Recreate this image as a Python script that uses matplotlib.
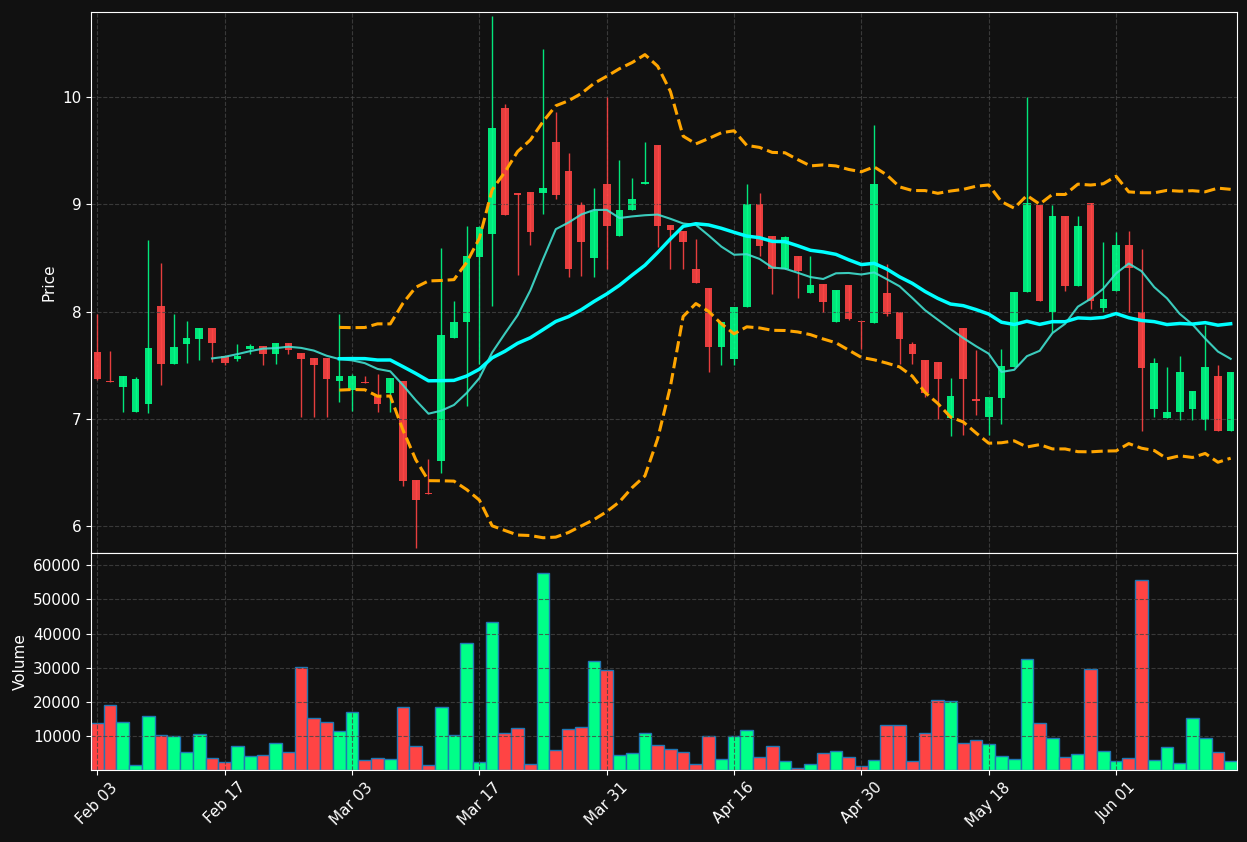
"""
plot.py - candlestick chart with MA10 / MA20, Bollinger bands and volume
"""
import numpy as np
import pandas as pd
import matplotlib
matplotlib.use("Agg")
import matplotlib.pyplot as plt

# tick labels, one every 10 trading days
tick_labels = ["Feb 03", "Feb 17", "Mar 03", "Mar 17", "Mar 31",
               "Apr 16", "Apr 30", "May 18", "Jun 01"]

opens = [7.62, 7.35, 7.30, 7.06, 7.14, 8.05, 7.51, 7.70, 7.74, 7.85,
         7.59, 7.56, 7.65, 7.68, 7.60, 7.71, 7.61, 7.57, 7.57, 7.35,
         7.27, 7.34, 7.21, 7.24, 7.35, 6.43, 6.31, 6.61, 7.75, 7.90,
         8.51, 8.72, 9.90, 9.10, 9.11, 9.10, 9.58, 9.31, 8.99, 8.50,
         9.19, 8.70, 8.95, 9.19, 9.55, 8.81, 8.75, 8.40, 8.22, 7.67,
         7.56, 8.04, 9.00, 8.70, 8.40, 8.52, 8.17, 8.26, 7.90, 8.25,
         7.91, 7.89, 8.17, 8.00, 7.70, 7.55, 7.53, 7.01, 7.85, 7.18,
         7.02, 7.19, 7.48, 8.18, 8.99, 8.00, 8.89, 8.24, 9.01, 8.03,
         8.19, 8.62, 8.00, 7.09, 7.01, 7.06, 7.09, 6.99, 7.40, 6.89]
highs = [7.98, 7.63, 7.40, 7.39, 8.67, 8.45, 7.98, 7.91, 7.85, 7.85,
         7.59, 7.70, 7.70, 7.68, 7.71, 7.71, 7.61, 7.57, 7.57, 7.98,
         7.42, 7.40, 7.42, 7.38, 7.35, 6.43, 6.63, 8.59, 8.10, 8.80,
         8.80, 10.75, 9.93, 9.10, 9.11, 10.45, 9.86, 9.48, 9.02, 9.15,
         10.00, 9.41, 9.24, 9.58, 9.55, 8.81, 8.75, 8.68, 8.22, 7.90,
         8.04, 9.19, 9.10, 8.70, 8.70, 8.52, 8.52, 8.26, 8.20, 8.25,
         7.91, 9.74, 8.44, 8.00, 7.72, 7.55, 7.53, 7.38, 7.85, 7.64,
         7.20, 7.65, 8.18, 10.00, 8.99, 8.99, 8.89, 8.89, 9.01, 8.65,
         8.74, 8.75, 8.58, 7.57, 7.48, 7.59, 7.26, 7.87, 7.50, 7.44]
lows = [7.36, 7.34, 7.06, 7.06, 7.05, 7.32, 7.51, 7.52, 7.55, 7.53,
        7.50, 7.54, 7.60, 7.50, 7.51, 7.60, 7.02, 7.02, 7.02, 7.16,
        7.07, 7.33, 7.06, 7.06, 6.37, 5.80, 6.30, 6.50, 7.75, 7.12,
        7.51, 8.05, 8.90, 8.34, 8.62, 8.91, 9.05, 8.32, 8.33, 8.32,
        8.40, 8.70, 8.95, 9.19, 8.60, 8.40, 8.40, 8.27, 7.44, 7.50,
        7.50, 8.04, 8.52, 8.16, 8.40, 8.13, 8.17, 8.00, 7.90, 7.92,
        7.65, 7.89, 7.96, 7.51, 7.51, 7.20, 7.00, 6.84, 6.85, 7.04,
        6.85, 6.95, 7.48, 8.18, 8.10, 7.81, 8.19, 8.24, 8.02, 8.00,
        8.19, 8.00, 6.89, 7.02, 7.01, 6.99, 6.99, 6.90, 6.89, 6.89]
closes = [7.37, 7.34, 7.40, 7.37, 7.66, 7.51, 7.67, 7.75, 7.85, 7.71,
          7.52, 7.59, 7.68, 7.60, 7.71, 7.64, 7.56, 7.50, 7.37, 7.40,
          7.40, 7.33, 7.14, 7.38, 6.42, 6.24, 6.30, 7.78, 7.90, 8.52,
          8.79, 9.71, 8.90, 9.09, 8.74, 9.15, 9.09, 8.40, 8.65, 8.94,
          8.80, 8.95, 9.05, 9.20, 8.80, 8.76, 8.65, 8.27, 7.67, 7.90,
          8.04, 9.00, 8.61, 8.40, 8.69, 8.38, 8.25, 8.09, 8.20, 7.93,
          7.90, 9.19, 7.98, 7.74, 7.60, 7.24, 7.37, 7.21, 7.37, 7.17,
          7.20, 7.49, 8.18, 9.01, 8.10, 8.89, 8.24, 8.80, 8.10, 8.12,
          8.62, 8.41, 7.47, 7.52, 7.06, 7.44, 7.26, 7.48, 6.89, 7.44]
volumes = [13730, 18990, 14020, 1360, 15770, 10220, 9930, 5260, 10520, 3500,
           2340, 7010, 4090, 4380, 7890, 5260, 30090, 15190, 14020, 11390,
           16940, 2920, 3500, 3210, 18400, 7010, 1360, 18400, 10220, 37100,
           2340, 43530, 10810, 12270, 1750, 57840, 5840, 11980, 12560, 31840,
           29210, 4380, 4970, 10810, 7300, 6130, 5260, 1750, 9930, 3210,
           9930, 11680, 3800, 7010, 2630, 580, 1750, 4970, 5550, 3800,
           1170, 2920, 13150, 13150, 2630, 10810, 20450, 20160, 7890, 8760,
           7600, 4090, 3210, 32420, 13730, 9350, 3800, 4670, 29500, 5550,
           2630, 3500, 55790, 2920, 6720, 2040, 15190, 9350, 5260, 2630]

BG = "#111111"
UP = "#00ff88"
DOWN = "#ff4444"

df = pd.DataFrame({"open": opens, "high": highs, "low": lows,
                   "close": closes, "volume": volumes})
x = np.arange(len(df))
up = df["close"] >= df["open"]
colors = np.where(up, UP, DOWN)

# indicators
ma10 = df["close"].rolling(10).mean()
ma20 = df["close"].rolling(20).mean()
std20 = df["close"].rolling(20).std(ddof=0)
upper = ma20 + 2 * std20
lower = ma20 - 2 * std20

fig = plt.figure(figsize=(12.47, 8.42), dpi=100, facecolor=BG)
ax = fig.add_axes([0.073, 0.3432, 0.919, 0.6425], facecolor=BG)
axv = fig.add_axes([0.073, 0.0855, 0.919, 0.2577], facecolor=BG, sharex=ax)

# candles: wicks then bodies
ax.vlines(x, df["low"], df["high"], colors=colors, linewidth=1, alpha=0.9)
body_low = np.minimum(df["open"], df["close"])
body_h = np.maximum((df["close"] - df["open"]).abs(), 0.012)
ax.bar(x, body_h, bottom=body_low, width=0.6, color=colors, alpha=0.9)

ax.plot(x, ma10, color="#40e0d0", linewidth=1.5, alpha=0.9)
ax.plot(x, ma20, color="#00ffff", linewidth=2.5)
ax.plot(x, upper, color="orange", linestyle="--", linewidth=2.2)
ax.plot(x, lower, color="orange", linestyle="--", linewidth=2.2)

# volume
axv.bar(x, df["volume"], width=1.0, color=colors, edgecolor="#1f77b4", linewidth=1)

for a in (ax, axv):
    a.grid(True, linestyle="--", color="#444444", linewidth=0.8, alpha=0.8)
    a.tick_params(colors="white", labelsize=11)
    for s in a.spines.values():
        s.set_color("white")

ax.set_xlim(-0.5, len(df) - 0.5)
ax.set_ylim(5.75, 10.79)
ax.set_yticks([6, 7, 8, 9, 10])
ax.set_ylabel("Price", color="white", fontsize=11)
ax.tick_params(axis="x", labelbottom=False, length=0)

axv.set_ylim(0, max(volumes) * 1.1)
axv.set_yticks([10000, 20000, 30000, 40000, 50000, 60000])
axv.set_ylabel("Volume", color="white", fontsize=11)
axv.set_xticks(x[::10][:len(tick_labels)])
axv.set_xticklabels(tick_labels, rotation=45)

fig.savefig("out.png", dpi=100, facecolor=BG)
